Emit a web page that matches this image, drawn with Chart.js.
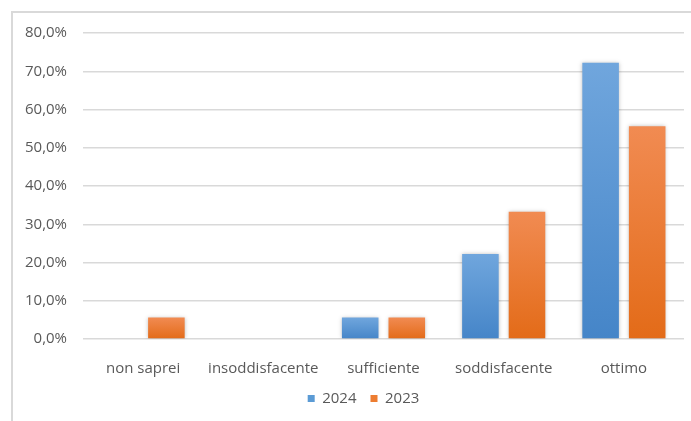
<!DOCTYPE html>
<html>
<head>
<meta charset="utf-8">
<script src="https://cdn.jsdelivr.net/npm/chart.js@4.4.1/dist/chart.umd.min.js"></script>
<style>
    html, body { margin: 0; padding: 0; background: #fff; overflow: hidden; }
    #wrap { position: relative; width: 691px; height: 421px; }
    #frame { position: absolute; left: 11px; top: 11px; width: 720px; height: 450px; border: 2px solid #d9d9d9; box-sizing: border-box; }
    canvas { position: absolute; left: 0; top: 0; }
</style>
</head>
<body>
<div id="wrap">
    <div id="frame"></div>
    <canvas id="chart" width="691" height="421"></canvas>
</div>
<script>
const categories = ['non saprei', 'insoddisfacente', 'sufficiente', 'soddisfacente', 'ottimo'];
const values2024 = [0, 0, 5.6, 22.2, 72.2];
const values2023 = [5.6, 0, 5.6, 33.3, 55.6];
const seriesLabels = ['2024', '2023'];

const textColor = '#595959';
const font = {family: "'Open Sans', sans-serif", size: 15};

// vertical gradient for each bar, lighter at the top
function barGradient(top, bottom, solid) {
    return (ctx) => {
        const chart = ctx.chart;
        if (!chart.chartArea || ctx.type !== 'data') return solid;
        const y = chart.scales.y;
        const yTop = y.getPixelForValue(ctx.raw);
        const yBase = y.getPixelForValue(0);
        if (yBase - yTop < 1) return solid;
        const g = chart.ctx.createLinearGradient(0, yTop, 0, yBase);
        g.addColorStop(0, top);
        g.addColorStop(1, bottom);
        return g;
    };
}

const shadowPlugin = {
    id: 'barShadow',
    beforeDatasetsDraw(chart) {
        const c = chart.ctx;
        c.save();
        c.shadowColor = 'rgba(0,0,0,0.25)';
        c.shadowBlur = 4;
        c.shadowOffsetX = 0;
        c.shadowOffsetY = 0;
    },
    afterDatasetsDraw(chart) {
        chart.ctx.restore();
    }
};

// centre the legend under the plot area instead of the whole canvas
const legendShift = {
    id: 'legendShift',
    afterLayout(chart) {
        const lg = chart.legend;
        if (!lg) return;
        const dx = (chart.chartArea.left + chart.chartArea.right) / 2 - (lg.left + lg.right) / 2 - 20;
        lg.left += dx;
        lg.right += dx;
    }
};

new Chart(document.getElementById('chart'), {
    type: 'bar',
    data: {
        labels: categories,
        datasets: [
            {
                label: seriesLabels[0],
                data: values2024,
                backgroundColor: barGradient('#70a6dd', '#4585c8', '#5b9bd5'),
                categoryPercentage: 0.775,
                barPercentage: 0.785
            },
            {
                label: seriesLabels[1],
                data: values2023,
                backgroundColor: barGradient('#f18b52', '#e36b18', '#ed7d31'),
                categoryPercentage: 0.775,
                barPercentage: 0.785
            }
        ]
    },
    plugins: [shadowPlugin, legendShift],
    options: {
        responsive: false,
        animation: false,
        layout: {padding: {left: 12, top: 33, right: 7, bottom: 5}},
        plugins: {
            tooltip: {enabled: false},
            legend: {
                position: 'bottom',
                labels: {
                    color: textColor,
                    font: font,
                    boxWidth: 7,
                    boxHeight: 7,
                    padding: 14,
                    generateLabels(chart) {
                        const cols = ['#5b9bd5', '#ed7d31'];
                        return chart.data.datasets.map((ds, i) => ({
                            text: ds.label,
                            fillStyle: cols[i],
                            strokeStyle: cols[i],
                            lineWidth: 0,
                            fontColor: textColor,
                            datasetIndex: i
                        }));
                    }
                }
            }
        },
        scales: {
            x: {
                grid: {display: false},
                border: {display: false},
                ticks: {color: textColor, font: font, padding: 13, maxRotation: 0},
                afterFit(scale) { scale.height = 38; }
            },
            y: {
                min: 0,
                max: 80,
                grid: {color: '#d9d9d9', lineWidth: 1.5, drawTicks: false},
                border: {display: false},
                ticks: {
                    stepSize: 10,
                    color: textColor,
                    font: font,
                    padding: 16,
                    callback: (v) => v.toFixed(1).replace('.', ',') + '%'
                },
                afterFit(scale) { scale.width = 71; }
            }
        }
    }
});
</script>
</body>
</html>
